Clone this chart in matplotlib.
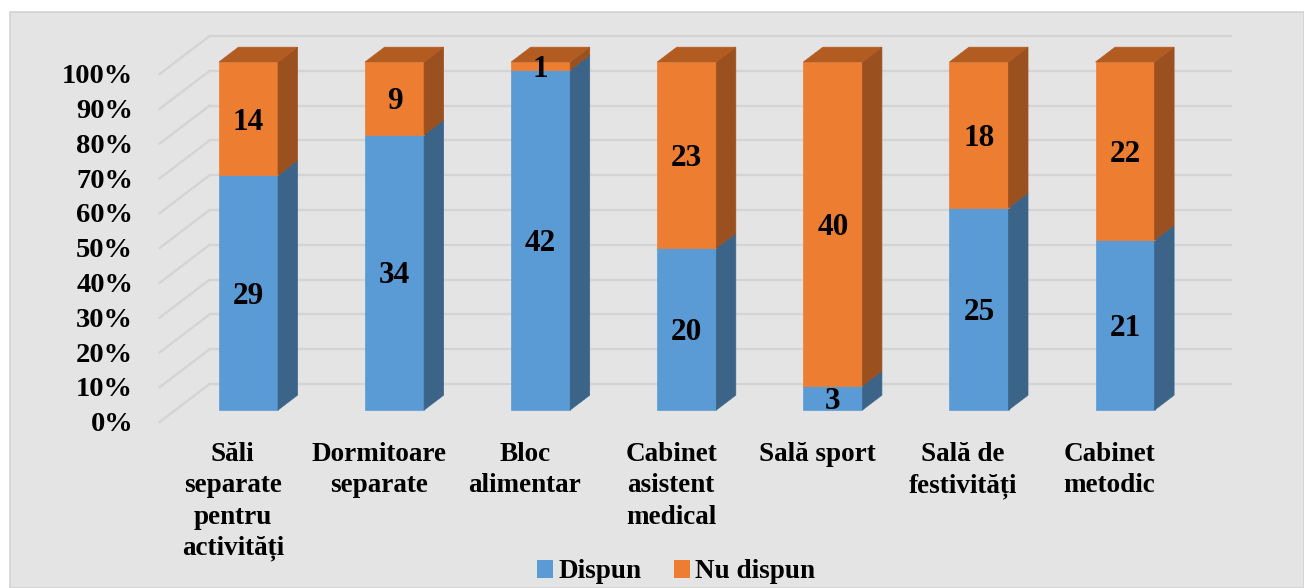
import matplotlib.pyplot as plt
from matplotlib.patches import Polygon, Rectangle, Patch

categories = ["Săli\nseparate\npentru\nactivități", "Dormitoare\nseparate", "Bloc\nalimentar",
              "Cabinet\nasistent\nmedical", "Sală sport", "Sală de\nfestivități", "Cabinet\nmetodic"]
dispun = [29, 34, 42, 20, 3, 25, 21]
nu_dispun = [14, 9, 1, 23, 40, 18, 22]
series_names = ["Dispun", "Nu dispun"]
yticks = list(range(0, 101, 10))

# colours: front, side, top
blue = ("#5B9BD5", "#3B6488", "#4A7FB0")
orange = ("#ED7D31", "#9A501F", "#B35C22")

plt.rcParams['font.family'] = ['Liberation Serif', 'DejaVu Serif']
plt.rcParams['font.weight'] = 'bold'

fig = plt.figure(figsize=(13.04, 5.88), dpi=100)

ax = fig.add_axes([0, 0, 1, 1])
ax.set_facecolor("none")
ax.axis("off")
# panel behind the chart
ax.add_patch(Rectangle((10 / 1304, 0), 1 - 10 / 1304, 1 - 12 / 588, transform=ax.transAxes,
                       facecolor="#E4E4E4", edgecolor="#D2D2D2", linewidth=1.2, zorder=0,
                       clip_on=False))
# one category = 146.1 px, 1 % = 3.48 px, bar front centre of first bar at x=248.5, 0% at y=410
ax.set_xlim(-248.5 / 146.1, (1304 - 248.5) / 146.1)
ax.set_ylim(-(588 - 410) / 3.48, 410 / 3.48)

# oblique depth: full depth vector, bar front/back inside it
ddx, ddy = 0.342, 10.92
f_front, f_back = -0.316, 0.684   # floor front / back wall relative to bar front
bar_depth = 0.39
w = 0.404
grid_c = "#D4D4D4"
txt_dy = -1.0   # small downward nudge so digits sit like the original

x_left, x_right = -0.5, len(categories) - 0.5
for v in yticks:
    ax.plot([x_left + f_back * ddx, x_right + f_back * ddx], [v + f_back * ddy] * 2,
            color=grid_c, lw=1.7, zorder=1, solid_capstyle='butt')
    ax.plot([x_left + f_front * ddx, x_left + f_back * ddx], [v + f_front * ddy, v + f_back * ddy],
            color=grid_c, lw=1.7, zorder=1)
    ax.text(-0.79, v + f_front * ddy + txt_dy * 0.8, f"{v}%", ha="right", va="center",
            fontsize=20.5, fontweight="bold")

bx, by = bar_depth * ddx, bar_depth * ddy


def draw_segment(x, y0, y1, cols, top):
    l, r = x - w / 2, x + w / 2
    ax.add_patch(Polygon([(l, y0), (r, y0), (r, y1), (l, y1)], closed=True,
                         facecolor=cols[0], edgecolor=cols[0], lw=0.5, zorder=3))
    ax.add_patch(Polygon([(r, y0), (r + bx, y0 + by), (r + bx, y1 + by), (r, y1)], closed=True,
                         facecolor=cols[1], edgecolor=cols[1], lw=0.5, zorder=3))
    if top:
        ax.add_patch(Polygon([(l, y1), (r, y1), (r + bx, y1 + by), (l + bx, y1 + by)], closed=True,
                             facecolor=cols[2], edgecolor=cols[2], lw=0.5, zorder=3))


for i, (d, n) in enumerate(zip(dispun, nu_dispun)):
    tot = d + n
    pd = d / tot * 100
    draw_segment(i, 0, pd, blue, False)
    draw_segment(i, pd, 100, orange, True)
    ax.text(i, pd / 2 + txt_dy, str(d), ha="center", va="center", fontsize=22.5,
            fontweight="bold", zorder=5)
    ax.text(i, (pd + 100) / 2 + txt_dy, str(n), ha="center", va="center", fontsize=22.5,
            fontweight="bold", zorder=5)
    ax.text(i + f_front * ddx, -9.2, categories[i], ha="center", va="top", fontsize=19.5,
            fontweight="bold", linespacing=1.33)

handles = [Patch(facecolor=blue[0]), Patch(facecolor=orange[0])]
fig.legend(handles, series_names, loc="center", bbox_to_anchor=(676 / 1304, 1 - 572 / 588),
           ncol=2, frameon=False, fontsize=19.5, handlelength=0.6, handleheight=0.6,
           handletextpad=0.2, columnspacing=1.2, borderpad=0)

fig.savefig("out.png", dpi=100)
